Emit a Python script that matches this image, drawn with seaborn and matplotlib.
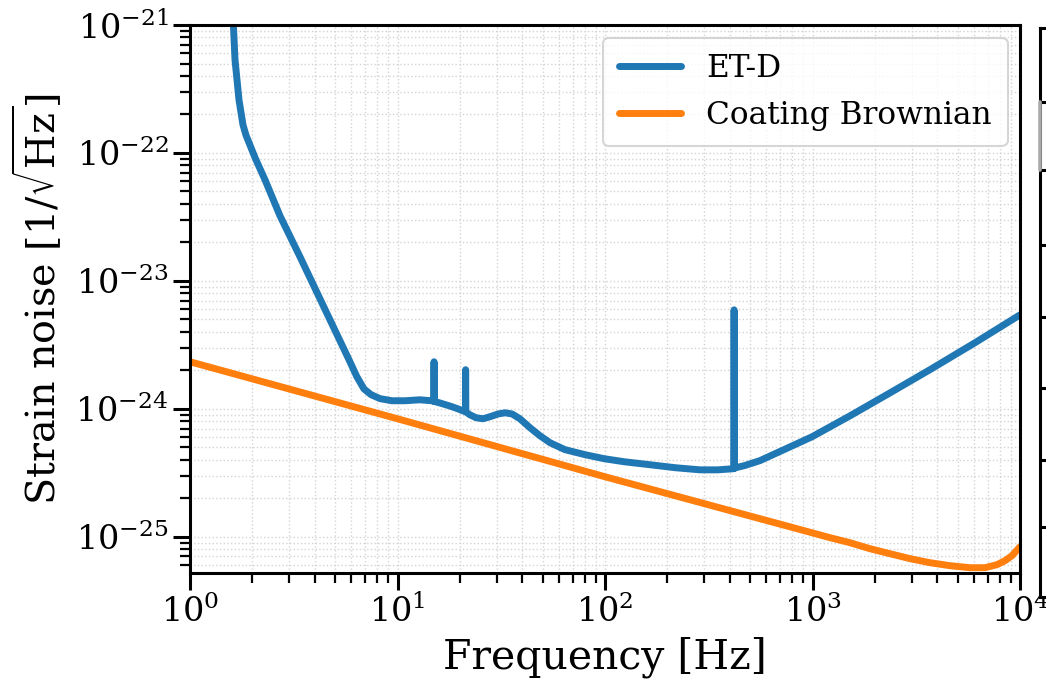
import matplotlib
matplotlib.use("Agg")
import matplotlib.pyplot as plt
import seaborn as sns

# ET-D sensitivity curve
etd_freq = [1.60, 1.648, 1.685, 1.722, 1.80, 1.86, 2.06, 2.30, 2.715, 3.39, 4.23, 5.28,
            5.90, 6.37, 6.89, 7.45, 8.23, 9.40, 10.87, 12.8, 14.6, 14.95, 15.0, 15.05,
            16.0, 17.9, 19.5, 20.6, 21.25, 21.3, 21.35, 22.3, 23.9, 25.8, 27.9, 30.5,
            33.0, 35.7, 38.9, 43.5, 48.6, 54.4, 64.1, 79.9, 99.0, 124.0, 165.0, 218.0,
            287.0, 350.0, 417.0, 419.0, 421.0, 427.0, 472.0, 558.0, 745.0, 995.0,
            1517.0, 2362.0, 3681.0, 6067.0, 10000.0]
etd_asd = [1.5e-21, 5.33e-22, 3.72e-22, 2.60e-22, 1.66e-22, 1.38e-22, 9.14e-23, 6.15e-23,
           3.22e-23, 1.54e-23, 7.24e-24, 3.40e-24, 2.33e-24, 1.78e-24, 1.43e-24, 1.29e-24,
           1.20e-24, 1.155e-24, 1.155e-24, 1.175e-24, 1.155e-24, 1.145e-24, 2.33e-24,
           1.14e-24, 1.11e-24, 1.05e-24, 1.0e-24, 9.65e-25, 9.55e-25, 2.02e-24, 9.45e-25,
           8.98e-25, 8.51e-25, 8.35e-25, 8.66e-25, 9.1e-25, 9.30e-25, 9.1e-25, 8.35e-25,
           7.11e-25, 6.15e-25, 5.42e-25, 4.79e-25, 4.38e-25, 4.07e-25, 3.85e-25, 3.65e-25,
           3.46e-25, 3.33e-25, 3.33e-25, 3.40e-25, 5.93e-24, 3.42e-25, 3.46e-25, 3.60e-25,
           3.93e-25, 4.87e-25, 6.04e-25, 8.81e-25, 1.33e-24, 2.02e-24, 3.28e-24, 5.42e-24]

# Coating Brownian noise
cb_freq = [1.0, 10.0, 100.0, 1000.0, 1214.0, 1517.0, 1893.0, 2362.0, 2951.0, 3681.0,
           4600.0, 5740.0, 6780.0, 7745.0, 8470.0, 9150.0, 10000.0]
cb_asd = [2.33e-24, 8.35e-25, 2.94e-25, 1.07e-25, 9.82e-26, 8.97e-26, 8.05e-26, 7.36e-26,
          6.73e-26, 6.26e-26, 5.93e-26, 5.72e-26, 5.72e-26, 6.04e-26, 6.49e-26, 7.1e-26,
          8.35e-26]

labels = ["ET-D", "Coating Brownian"]
colors = ["#1f77b4", "#ff7f0e"]

sns.set_theme(style="ticks")
plt.rcParams["font.family"] = ["DejaVu Serif"]
plt.rcParams["mathtext.fontset"] = "dejavuserif"
for key in ["text.color", "axes.labelcolor", "xtick.color", "ytick.color",
            "axes.edgecolor"]:
    plt.rcParams[key] = "black"

fig = plt.figure(figsize=(10.46, 6.90), dpi=100)
ax = fig.add_axes([190/1046, 1-573/690, (1020-190)/1046, (573-25)/690])

sns.lineplot(x=etd_freq, y=etd_asd, ax=ax, color=colors[0], linewidth=5.0,
             label=labels[0], sort=False, estimator=None)
sns.lineplot(x=cb_freq, y=cb_asd, ax=ax, color=colors[1], linewidth=5.0,
             label=labels[1], sort=False, estimator=None)
for ln in ax.lines:
    ln.set_solid_capstyle("round")
    ln.set_solid_joinstyle("round")

ax.set_xscale("log")
ax.set_yscale("log")
ax.set_xlim(1, 1e4)
ax.set_ylim(5.2e-26, 1e-21)

ax.grid(True, which="both", color="#d4d4d4", linestyle=":", linewidth=1.0)
ax.tick_params(axis="both", which="major", labelsize=24, length=12, width=2.2,
               direction="out", color="black", labelcolor="black")
ax.tick_params(axis="both", which="minor", length=7, width=1.6, direction="out",
               color="black")
for s in ax.spines.values():
    s.set_linewidth(2.2)
    s.set_color("black")

ax.set_xlabel("Frequency [Hz]", fontsize=29.5, labelpad=6, color="black")
ax.set_ylabel(r"Strain noise [1/$\sqrt{\mathrm{Hz}}$]", fontsize=28.5, labelpad=8,
              color="black")

leg = ax.legend(loc="upper right", fontsize=22.5, frameon=True, handlelength=2.0,
                borderpad=0.5, labelspacing=0.5, borderaxespad=0.4)
leg.get_frame().set_edgecolor("#cccccc")
leg.get_frame().set_linewidth(1.5)
for t in leg.get_texts():
    t.set_color("black")
for h in leg.get_lines():
    h.set_linewidth(5.0)

# cropped neighbouring panel at the right edge
ax2 = fig.add_axes([1040/1046, 1-597/690, 0.2, (597-28)/690])
ax2.set_xlim(0, 1)
ax2.set_ylim(0, 1)
ax2.set_xticks([])
tick_px = [102, 170, 245, 317, 388, 460, 527]
ax2.set_yticks([(597-p)/(597-28) for p in tick_px])
ax2.tick_params(axis="y", direction="in", length=8, width=2.2, color="black",
                labelleft=False)
ax2.tick_params(axis="x", labelbottom=False)
for s in ax2.spines.values():
    s.set_linewidth(2.2)
    s.set_color("black")
ax2.plot([0, 0], [(597-170)/(597-28), (597-102)/(597-28)], color="#aaaaaa",
         linewidth=2.6, transform=ax2.transAxes, clip_on=False, zorder=5)

fig.savefig("out.png", dpi=100)
